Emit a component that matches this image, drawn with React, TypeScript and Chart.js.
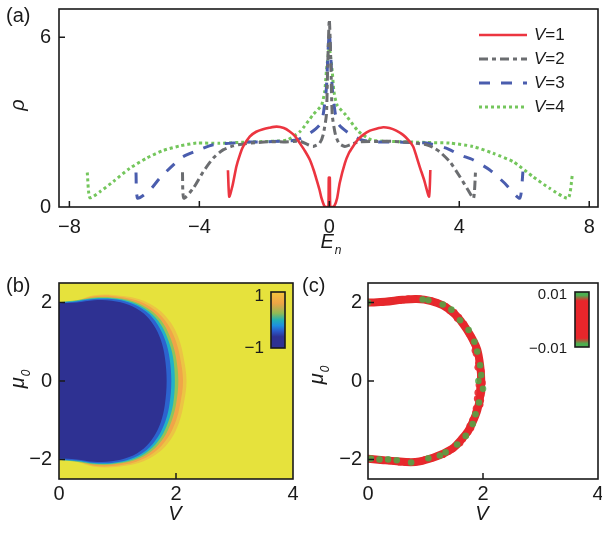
import React, { useEffect, useRef } from "react";
import { Chart, registerables } from "chart.js";
Chart.register(...registerables);

const FONT = '"Liberation Sans", Arial, Helvetica, sans-serif';
type Pt = [number, number];

// ---------------- Panel (a): density of states ----------------
const aXTicks = [-8, -4, 0, 4, 8];
const aYTicks = [0, 6];
const aXRange = [-8.32, 8.27];
const aYRange = [0, 7];
const seriesLabels = ["1", "2", "3", "4"];

const rhoV1: Pt[] = [
  [-3.12, 1.3], [-3.08, 0.37], [-2.98, 0.75], [-2.86, 1.43], [-2.75, 1.85], [-2.65, 2.14],
  [-2.45, 2.49], [-2.25, 2.66], [-2.04, 2.75], [-1.85, 2.8], [-1.62, 2.84], [-1.4, 2.79],
  [-1.22, 2.67], [-1.05, 2.5], [-0.91, 2.26], [-0.75, 1.98], [-0.6, 1.67], [-0.48, 1.3],
  [-0.39, 0.96], [-0.3, 0.6], [-0.24, 0.31], [-0.16, 0.05], [-0.1, 0.0], [-0.03, 0.0],
  [-0.015, 1.04], [0.015, 1.04], [0.03, 0.0], [0.1, 0.0], [0.16, 0.05], [0.24, 0.31],
  [0.32, 0.85], [0.48, 1.55], [0.6, 1.9], [0.73, 2.14], [0.88, 2.38], [1.04, 2.55],
  [1.25, 2.7], [1.45, 2.77], [1.66, 2.82], [1.85, 2.79], [2.06, 2.7], [2.27, 2.55],
  [2.45, 2.35], [2.58, 2.14], [2.68, 1.8], [2.78, 1.43], [2.92, 0.95], [3.07, 0.37], [3.11, 1.31],
];
const rhoV2: Pt[] = [
  [-4.52, 1.23], [-4.48, 0.31], [-4.19, 0.66], [-3.88, 1.25], [-3.57, 1.73], [-3.27, 2.02],
  [-2.96, 2.16], [-2.6, 2.24], [-2.2, 2.28], [-1.8, 2.31], [-1.4, 2.3], [-0.9, 2.32],
  [-0.65, 2.2], [-0.5, 2.14], [-0.3, 2.25], [-0.19, 2.55], [-0.09, 3.26], [-0.05, 5.0],
  [0, 6.63], [0.05, 5.0], [0.09, 3.26], [0.19, 2.55], [0.3, 2.25], [0.48, 2.14],
  [0.65, 2.2], [0.9, 2.3], [1.5, 2.32], [2.0, 2.32], [2.5, 2.28], [2.99, 2.2],
  [3.2, 2.1], [3.4, 1.95], [3.71, 1.6], [4.02, 1.07], [4.27, 0.6], [4.44, 0.31], [4.5, 1.25],
];
const rhoV3: Pt[] = [
  [-5.95, 1.22], [-5.9, 0.31], [-5.52, 0.6], [-5.22, 1.02], [-4.8, 1.49], [-4.5, 1.78],
  [-4.14, 1.96], [-3.58, 2.2], [-2.96, 2.26], [-2.5, 2.3], [-2.0, 2.3], [-1.5, 2.33],
  [-1.0, 2.37], [-0.6, 2.61], [-0.3, 2.9], [-0.19, 3.26], [-0.09, 4.2], [-0.04, 5.5],
  [0, 6.16], [0.04, 5.5], [0.09, 4.2], [0.19, 3.26], [0.3, 2.9], [0.6, 2.61],
  [1.0, 2.37], [1.5, 2.3], [2.0, 2.3], [2.5, 2.28], [2.99, 2.26], [3.6, 2.08],
  [4.02, 1.84], [4.42, 1.67], [4.94, 1.31], [5.4, 0.84], [5.86, 0.31], [5.96, 1.25],
];
const rhoV4: Pt[] = [
  [-7.45, 1.22], [-7.37, 0.33], [-7.06, 0.54], [-6.65, 0.9], [-6.14, 1.37], [-5.62, 1.73],
  [-5.11, 2.0], [-4.6, 2.16], [-4.09, 2.26], [-3.37, 2.25], [-2.5, 2.3], [-1.8, 2.32],
  [-1.3, 2.37], [-0.9, 2.67], [-0.5, 3.26], [-0.24, 3.6], [-0.14, 4.1], [-0.09, 4.8],
  [-0.03, 5.4], [0, 5.63], [0.03, 5.4], [0.09, 4.8], [0.14, 4.1], [0.24, 3.6],
  [0.5, 3.26], [0.9, 2.67], [1.3, 2.37], [1.8, 2.32], [2.5, 2.3], [3.0, 2.28],
  [3.71, 2.26], [4.42, 2.14], [5.04, 1.9], [5.66, 1.6], [6.27, 1.07], [6.78, 0.66],
  [7.35, 0.31], [7.48, 1.13],
];

// ---------------- Panel (b): phase map contours ----------------
const bXTicks = [0, 2, 4];
const bYTicks = [-2, 0, 2];
const bXRange = [0, 4];
const bYRange = [-2.5, 2.5];
const fadeEdge: Pt[] = [[0, 2.0], [0.3, 2.06], [0.6, 2.19], [0.9, 2.2], [1.36, 2.09], [1.68, 1.85], [1.91, 1.49], [2.05, 1.07], [2.13, 0.6], [2.18, 0], [2.13, -0.6], [2.05, -1.07], [1.91, -1.49], [1.68, -1.85], [1.36, -2.09], [0.9, -2.2], [0.6, -2.19], [0.3, -2.06], [0, -2.0]];
const orangeEdge: Pt[] = [[0, 2.0], [0.3, 2.05], [0.6, 2.16], [0.9, 2.17], [1.32, 2.06], [1.63, 1.82], [1.85, 1.47], [1.99, 1.05], [2.07, 0.6], [2.12, 0], [2.07, -0.6], [1.99, -1.05], [1.85, -1.47], [1.63, -1.82], [1.32, -2.06], [0.9, -2.17], [0.6, -2.16], [0.3, -2.05], [0, -2.0]];
const greenEdge: Pt[] = [[0, 2.01], [0.3, 2.06], [0.6, 2.13], [0.9, 2.13], [1.28, 2.03], [1.58, 1.79], [1.79, 1.45], [1.92, 1.04], [2.0, 0.6], [2.04, 0], [2.0, -0.6], [1.92, -1.04], [1.79, -1.45], [1.58, -1.79], [1.28, -2.03], [0.9, -2.13], [0.6, -2.13], [0.3, -2.06], [0, -2.01]];
const cyanEdge: Pt[] = [[0, 2.01], [0.3, 2.05], [0.6, 2.11], [0.9, 2.11], [1.25, 2.01], [1.54, 1.77], [1.74, 1.44], [1.87, 1.03], [1.95, 0.6], [1.98, 0], [1.95, -0.6], [1.87, -1.03], [1.74, -1.44], [1.54, -1.77], [1.25, -2.01], [0.9, -2.11], [0.6, -2.11], [0.3, -2.05], [0, -2.01]];
const blueEdge: Pt[] = [[0, 2.0], [0.3, 2.03], [0.6, 2.09], [0.9, 2.09], [1.22, 1.99], [1.5, 1.76], [1.69, 1.43], [1.82, 1.02], [1.89, 0.58], [1.92, 0], [1.89, -0.58], [1.82, -1.02], [1.69, -1.43], [1.5, -1.76], [1.22, -1.99], [0.9, -2.09], [0.6, -2.09], [0.3, -2.03], [0, -2.0]];
const navyEdge: Pt[] = [[0, 1.98], [0.3, 2.0], [0.6, 2.06], [0.9, 2.05], [1.2, 1.94], [1.45, 1.72], [1.62, 1.42], [1.74, 1.05], [1.81, 0.6], [1.84, 0], [1.81, -0.6], [1.74, -1.05], [1.62, -1.42], [1.45, -1.72], [1.2, -1.94], [0.9, -2.05], [0.6, -2.06], [0.3, -2.0], [0, -1.98]];
const bColorbarLabels = ["1", "\u22121"];

// ---------------- Panel (c): boundary points ----------------
const cCurve: Pt[] = [[0, 2.0], [0.3, 2.02], [0.6, 2.07], [0.85, 2.09], [1.1, 2.04], [1.3, 1.93], [1.49, 1.73], [1.62, 1.52], [1.72, 1.31], [1.82, 1.06], [1.9, 0.8], [1.95, 0.4], [1.97, 0], [1.95, -0.4], [1.9, -0.75], [1.82, -1.05], [1.74, -1.28], [1.62, -1.5], [1.49, -1.7], [1.3, -1.86], [1.14, -1.95], [0.9, -2.05], [0.74, -2.07], [0.5, -2.05], [0.27, -2.02], [0, -1.98]];
const cRedPts: Pt[] = [
  [0.1, 2.0], [0.2, 2.01], [0.35, 2.03], [0.5, 2.06], [0.65, 2.08], [0.8, 2.09], [0.9, 2.1], [1.2, 2.0],
  [1.35, 1.9], [1.5, 1.75], [1.58, 1.62], [1.67, 1.45], [1.73, 1.3], [1.8, 1.12], [1.86, 0.92], [1.88, 0.7],
  [1.93, 0.55], [1.91, 0.35], [1.97, 0.25], [1.95, 0.05], [1.99, -0.05], [1.94, -0.2], [1.97, -0.35], [1.9, -0.45],
  [1.95, -0.6], [1.88, -0.7], [1.85, -0.95], [1.79, -1.2], [1.74, -1.3], [1.65, -1.48], [1.6, -1.58], [1.48, -1.72],
  [1.4, -1.8], [1.2, -1.92], [1.0, -2.0], [0.85, -2.06], [0.65, -2.08], [0.45, -2.05], [0.3, -2.03], [0.15, -2.0],
  [1.92, 0.45], [1.96, 0.12], [1.93, -0.1], [1.98, -0.28], [1.91, -0.3], [1.96, -0.5], [1.86, 0.78], [1.83, 1.0],
  [1.76, 1.2], [1.69, 1.38], [1.55, 1.6], [1.42, 1.8], [1.27, 1.95], [1.1, 2.05], [0.7, 2.1], [0.55, 2.05],
  [0.25, 2.0], [0.05, 2.0], [1.87, -0.8], [1.82, -1.0], [1.77, -1.15], [1.7, -1.38], [1.56, -1.6], [1.45, -1.75],
  [1.3, -1.88], [1.1, -1.98], [0.93, -2.04], [0.7, -2.06], [0.55, -2.07], [0.38, -2.04], [0.22, -2.02], [0.07, -1.99],
];
const cGreenPts: Pt[] = [[0, 2.0], [0.95, 2.08], [1.05, 2.06], [1.3, 1.95], [1.45, 1.82], [1.6, 1.55], [1.75, 1.3], [1.85, 1.0], [1.9, 0.75], [1.95, 0.4], [1.97, 0.15], [1.92, 0.0], [2.0, -0.2], [1.93, -0.55], [1.87, -0.85], [1.82, -1.1], [1.7, -1.4], [1.55, -1.62], [1.35, -1.82], [1.25, -1.9], [1.05, -1.97], [0.75, -2.08], [0.5, -2.02], [0.35, -2.0], [0.2, -2.0], [0.05, -1.98]];
const cColorbarLabels = ["0.01", "\u22120.01"];

// ---------------- helpers ----------------
const toXY = (a: Pt[]) => a.map(([x, y]) => ({ x, y }));
const fmt = (v: number) => (v < 0 ? "\u2212" + Math.abs(v) : String(v));

function axis(range: number[], ticks: number[], fit: (s: any) => void, size: number, pad: number) {
  return {
    type: "linear",
    min: range[0],
    max: range[1],
    afterBuildTicks: (s: any) => {
      s.ticks = ticks.map((v) => ({ value: v }));
    },
    afterFit: (s: any) => {
      fit(s);
      s.paddingTop = 0;
      s.paddingBottom = 0;
      s.paddingLeft = 0;
      s.paddingRight = 0;
    },
    grid: { display: false, drawTicks: false },
    border: { display: false },
    ticks: {
      font: { family: FONT, size },
      color: "#1a1a1a",
      padding: pad,
      maxRotation: 0,
      autoSkip: false,
      callback: (v: number) => fmt(v),
    },
  };
}

function drawSubText(ctx: CanvasRenderingContext2D, main: string, sub: string, x: number, y: number, size: number, rotate: boolean) {
  ctx.save();
  ctx.fillStyle = "#1a1a1a";
  ctx.textBaseline = "alphabetic";
  ctx.textAlign = "left";
  ctx.font = `italic ${size}px ${FONT}`;
  const w1 = ctx.measureText(main).width;
  ctx.font = `italic ${Math.round(size * 0.62)}px ${FONT}`;
  const w2 = sub ? ctx.measureText(sub).width : 0;
  const total = w1 + w2 + (sub ? 1 : 0);
  if (rotate) {
    ctx.translate(x, y);
    ctx.rotate(-Math.PI / 2);
    ctx.font = `italic ${size}px ${FONT}`;
    ctx.fillText(main, -total / 2, size * 0.36);
    if (sub) {
      ctx.font = `italic ${Math.round(size * 0.62)}px ${FONT}`;
      ctx.fillText(sub, -total / 2 + w1 + 1, size * 0.36 + size * 0.28);
    }
  } else {
    ctx.font = `italic ${size}px ${FONT}`;
    ctx.fillText(main, x - total / 2, y);
    if (sub) {
      ctx.font = `italic ${Math.round(size * 0.62)}px ${FONT}`;
      ctx.fillText(sub, x - total / 2 + w1 + 1, y + size * 0.3);
    }
  }
  ctx.restore();
}

function makeDecor(cfg: any) {
  return {
    id: "decor",
    beforeDatasetsDraw(chart: any) {
      if (!cfg.bg) return;
      const a = chart.chartArea;
      const ctx = chart.ctx;
      ctx.save();
      ctx.fillStyle = cfg.bg;
      ctx.fillRect(a.left, a.top, a.right - a.left, a.bottom - a.top);
      ctx.restore();
    },
    afterDraw(chart: any) {
      const ctx: CanvasRenderingContext2D = chart.ctx;
      const a = chart.chartArea;
      const xs = chart.scales.x;
      const ys = chart.scales.y;
      ctx.save();
      ctx.strokeStyle = "#1a1a1a";
      ctx.lineWidth = 1.5;
      ctx.beginPath();
      for (const t of xs.ticks) {
        const px = xs.getPixelForValue(t.value);
        if (px <= a.left + 1 || px >= a.right - 1) continue;
        ctx.moveTo(px, a.bottom);
        ctx.lineTo(px, a.bottom - cfg.tickLen);
      }
      for (const t of ys.ticks) {
        const py = ys.getPixelForValue(t.value);
        if (py >= a.bottom - 1 || py <= a.top + 1) continue;
        ctx.moveTo(a.left, py);
        ctx.lineTo(a.left + cfg.tickLen, py);
      }
      ctx.stroke();
      ctx.lineWidth = 1.6;
      ctx.strokeRect(a.left, a.top, a.right - a.left, a.bottom - a.top);

      // panel label
      ctx.fillStyle = "#1a1a1a";
      ctx.font = `20px ${FONT}`;
      ctx.textBaseline = "top";
      ctx.textAlign = "left";
      ctx.fillText(cfg.panel[0], cfg.panel[1], cfg.panel[2]);

      // axis titles
      drawSubText(ctx, cfg.xTitle[0], cfg.xTitle[1], cfg.xTitle[2], cfg.xTitle[3], 20, false);
      drawSubText(ctx, cfg.yTitle[0], cfg.yTitle[1], cfg.yTitle[2], cfg.yTitle[3], 20, true);

      // legend
      if (cfg.legend) {
        const [lx0, lx1, tx, y0, dy] = cfg.legend;
        chart.data.datasets.forEach((ds: any, i: number) => {
          const y = y0 + i * dy;
          ctx.save();
          ctx.strokeStyle = ds.borderColor;
          ctx.lineWidth = ds.borderWidth;
          ctx.setLineDash(ds.borderDash || []);
          ctx.beginPath();
          ctx.moveTo(lx0, y);
          ctx.lineTo(lx1, y);
          ctx.stroke();
          ctx.restore();
          ctx.fillStyle = "#1a1a1a";
          ctx.textBaseline = "middle";
          ctx.font = `italic 17px ${FONT}`;
          ctx.fillText("V", tx, y);
          const w = ctx.measureText("V").width;
          ctx.font = `17px ${FONT}`;
          ctx.fillText("=" + seriesLabels[i], tx + w, y);
        });
      }

      // colorbar
      if (cfg.colorbar) {
        const cb = cfg.colorbar;
        const [x, y, w, h] = cb.rect;
        const g = ctx.createLinearGradient(0, y, 0, y + h);
        cb.stops.forEach((s: any) => g.addColorStop(s[0], s[1]));
        ctx.fillStyle = g;
        ctx.fillRect(x, y, w, h);
        ctx.strokeStyle = "#1a1a1a";
        ctx.lineWidth = 1.6;
        ctx.strokeRect(x, y, w, h);
        ctx.fillStyle = "#1a1a1a";
        ctx.font = `${cb.fontSize}px ${FONT}`;
        ctx.textAlign = "right";
        ctx.textBaseline = "middle";
        ctx.fillText(cb.labels[0], cb.labelX, cb.labelY[0]);
        ctx.fillText(cb.labels[1], cb.labelX, cb.labelY[1]);
      }
      ctx.restore();
    },
  };
}

function buildA(canvas: HTMLCanvasElement) {
  const H = canvas.height;
  const line = (data: Pt[], color: string, width: number, dash: number[]) => ({
    data: toXY(data),
    borderColor: color,
    backgroundColor: color,
    borderWidth: width,
    borderDash: dash,
    pointRadius: 0,
    tension: 0.2,
    fill: false,
  });
  return new Chart(canvas, {
    type: "line",
    data: {
      datasets: [
        line(rhoV1, "#ec3540", 2.6, []),
        line(rhoV2, "#6b6d70", 3, [9, 4, 4, 4]),
        line(rhoV3, "#4a5dae", 3, [11, 11]),
        line(rhoV4, "#74c65c", 3, [3, 3]),
      ],
    },
    options: {
      responsive: false,
      animation: false,
      devicePixelRatio: 1,
      events: [],
      layout: { padding: { left: 0, top: 9, right: 4, bottom: 0 } },
      plugins: { legend: { display: false }, tooltip: { enabled: false } },
      scales: {
        x: axis(aXRange, aXTicks, (s: any) => { s.height = H - 207; }, 20, 8),
        y: axis(aYRange, aYTicks, (s: any) => { s.width = 59; }, 20, 8),
      },
    } as any,
    plugins: [
      makeDecor({
        tickLen: 6,
        panel: ["(a)", 6, 6],
        xTitle: ["E", "n", 331, 248],
        yTitle: ["\u03c1", "", 17, 105],
        legend: [479, 527, 534, 35, 24],
      }),
    ],
  } as any);
}

function buildB(canvas: HTMLCanvasElement) {
  const H = canvas.height;
  const region = (data: Pt[], color: string) => ({
    data: toXY(data),
    borderWidth: 0,
    borderColor: color,
    backgroundColor: color,
    pointRadius: 0,
    tension: 0.35,
    fill: "shape",
  });
  return new Chart(canvas, {
    type: "line",
    data: {
      datasets: [
        region(navyEdge, "#2e3192"),
        region(blueEdge, "#2c63cf"),
        region(cyanEdge, "#22b2c6"),
        region(greenEdge, "#8ec45a"),
        region(orangeEdge, "#f0a548"),
        region(fadeEdge, "#ecc444"),
      ],
    },
    options: {
      responsive: false,
      animation: false,
      devicePixelRatio: 1,
      events: [],
      layout: { padding: { left: 0, top: 21, right: 7, bottom: 0 } },
      plugins: { legend: { display: false }, tooltip: { enabled: false } },
      scales: {
        x: axis(bXRange, bXTicks, (s: any) => { s.height = H - 217; }, 20, 3),
        y: axis(bYRange, bYTicks, (s: any) => { s.width = 59; }, 20, 7),
      },
    } as any,
    plugins: [
      makeDecor({
        tickLen: 6,
        bg: "#e6e23c",
        panel: ["(b)", 6, 14],
        xTitle: ["V", "", 175, 258],
        yTitle: ["\u03bc", "0", 17, 117],
        colorbar: {
          rect: [271, 30, 14, 56],
          stops: [[0, "#f3c43c"], [0.2, "#eea446"], [0.38, "#8fba55"], [0.5, "#22b0b4"], [0.6, "#1e8fe0"], [0.7, "#2a58c8"], [0.8, "#2e3192"], [1, "#2e3192"]],
          labels: bColorbarLabels,
          labelX: 264,
          labelY: [34, 86],
          fontSize: 17,
        },
      }),
    ],
  } as any);
}

function buildC(canvas: HTMLCanvasElement) {
  const H = canvas.height;
  return new Chart(canvas, {
    type: "line",
    data: {
      datasets: [
        { type: "scatter", data: toXY(cGreenPts), pointRadius: 3.3, pointBorderWidth: 0, backgroundColor: "rgba(76,170,72,0.85)", borderColor: "rgba(76,170,72,0.85)", showLine: false },
        { type: "scatter", data: toXY(cRedPts), pointRadius: 3.4, pointBorderWidth: 0, backgroundColor: "rgba(232,40,44,0.9)", borderColor: "rgba(232,40,44,0.9)", showLine: false },
        { type: "line", data: toXY(cCurve), borderColor: "#e22a2c", borderWidth: 8, pointRadius: 0, tension: 0.35, fill: false, borderCapStyle: "round" },
      ],
    },
    options: {
      responsive: false,
      animation: false,
      devicePixelRatio: 1,
      events: [],
      layout: { padding: { left: 0, top: 21, right: 4, bottom: 0 } },
      plugins: { legend: { display: false }, tooltip: { enabled: false } },
      scales: {
        x: axis(bXRange, bXTicks, (s: any) => { s.height = H - 217; }, 20, 3),
        y: axis(bYRange, bYTicks, (s: any) => { s.width = 68; }, 20, 6),
      },
    } as any,
    plugins: [
      makeDecor({
        tickLen: 6,
        panel: ["(c)", 2, 14],
        xTitle: ["V", "", 182, 258],
        yTitle: ["\u03bc", "0", 16, 113],
        colorbar: {
          rect: [275, 30, 14, 55],
          stops: [[0, "#4caf50"], [0.06, "#4caf50"], [0.16, "#e8262b"], [0.84, "#e8262b"], [0.94, "#4caf50"], [1, "#4caf50"]],
          labels: cColorbarLabels,
          labelX: 267,
          labelY: [33, 87],
          fontSize: 15,
        },
      }),
    ],
  } as any);
}

function Panel(props: { left: number; top: number; width: number; height: number; build: (c: HTMLCanvasElement) => Chart }) {
  const ref = useRef<HTMLCanvasElement | null>(null);
  useEffect(() => {
    if (!ref.current) return;
    const chart = props.build(ref.current);
    return () => chart.destroy();
  }, []);
  return (
    <canvas
      ref={ref}
      width={props.width}
      height={props.height}
      style={{ position: "absolute", left: props.left, top: props.top, width: props.width, height: props.height, display: "block" }}
    />
  );
}

export default function App() {
  return (
    <div style={{ position: "absolute", left: 0, top: 0, width: 602, height: 533, background: "#fff", overflow: "hidden" }}>
      <Panel left={0} top={0} width={602} height={262} build={buildA} />
      <Panel left={0} top={262} width={300} height={271} build={buildB} />
      <Panel left={300} top={262} width={302} height={271} build={buildC} />
    </div>
  );
}
